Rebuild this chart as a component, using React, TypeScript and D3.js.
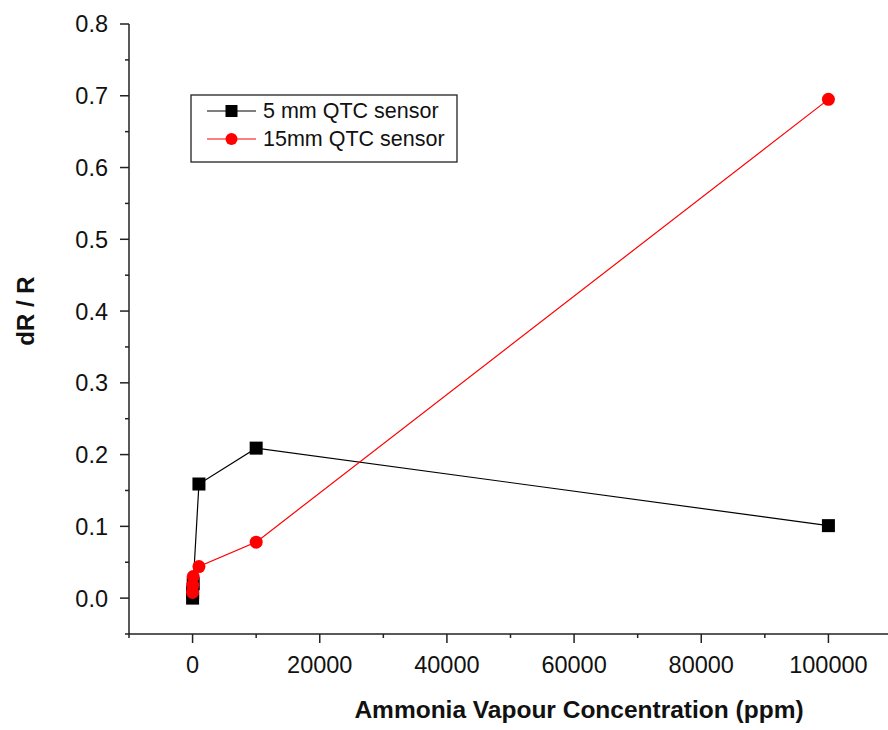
import React from "react";
import * as d3 from "d3";

const conc5 = [1, 10, 100, 1000, 10000, 100000];
const dr5 = [0.0, 0.008, 0.02, 0.159, 0.209, 0.101];
const conc15 = [1, 10, 100, 1000, 10000, 100000];
const dr15 = [0.008, 0.018, 0.03, 0.044, 0.078, 0.695];
const xTicks = [0, 20000, 40000, 60000, 80000, 100000];
const yTicks = [0, 0.1, 0.2, 0.3, 0.4, 0.5, 0.6, 0.7, 0.8];
const legendLabels = ["5 mm QTC sensor", "15mm QTC sensor"];

const sizes = { width: 888, height: 730 };
const margin = { top: 24, bottom: 96, left: 129, right: -4 };

const x = d3.scaleLinear()
  .domain([-10000, 110000])
  .range([margin.left, sizes.width - margin.right]);

const y = d3.scaleLinear()
  .domain([-0.05, 0.8])
  .range([sizes.height - margin.bottom, margin.top]);

const font = "'Liberation Sans', Arial, sans-serif";

export default function App() {
  const line = d3.line<[number, number]>()
    .x((d) => x(d[0]))
    .y((d) => y(d[1]));

  const s5 = conc5.map((c, i) => [c, dr5[i]] as [number, number]);
  const s15 = conc15.map((c, i) => [c, dr15[i]] as [number, number]);

  const xMinor = d3.range(-10000, 110001, 10000).filter((v) => !xTicks.includes(v));
  const yMinor = d3.range(0, 17).map((i) => -0.05 + i * 0.1).filter((v) => v > -0.06 && v < 0.8);

  const x0 = x.range()[0];
  const y0 = y.range()[0];

  return (
    <svg
      width={sizes.width}
      height={sizes.height}
      style={{ position: "absolute", left: 0, top: 0, background: "#fff" }}
      fontFamily={font}
    >
      {/* axes */}
      <g stroke="#222" strokeWidth={1.5} fill="none">
        <line x1={x0} x2={x0} y1={y(0.8)} y2={y0} />
        <line x1={x0} x2={sizes.width + 10} y1={y0} y2={y0} />
        {yTicks.map((t) => (
          <line key={"yt" + t} x1={x0 - 9} x2={x0} y1={y(t)} y2={y(t)} />
        ))}
        {yMinor.map((t) => (
          <line key={"ym" + t} x1={x0 - 4} x2={x0} y1={y(t)} y2={y(t)} />
        ))}
        {xTicks.map((t) => (
          <line key={"xt" + t} x1={x(t)} x2={x(t)} y1={y0} y2={y0 + 9} />
        ))}
        {xMinor.map((t) => (
          <line key={"xm" + t} x1={x(t)} x2={x(t)} y1={y0} y2={y0 + 4} />
        ))}
      </g>
      <g fontSize={23.5} fill="#111">
        {yTicks.map((t) => (
          <text key={"yl" + t} x={x0 - 21} y={y(t)} dy="0.36em" textAnchor="end">
            {t.toFixed(1)}
          </text>
        ))}
        {xTicks.map((t) => (
          <text key={"xl" + t} x={x(t)} y={y0 + 39} textAnchor="middle">
            {t}
          </text>
        ))}
      </g>
      <text
        x={579}
        y={718}
        textAnchor="middle"
        fontSize={24.5}
        fontWeight="bold"
        fill="#111"
      >
        Ammonia Vapour Concentration (ppm)
      </text>
      <text
        transform={`translate(34, ${y(0.4)}) rotate(-90)`}
        textAnchor="middle"
        fontSize={24}
        fontWeight="bold"
        fill="#111"
      >
        dR / R
      </text>

      {/* series */}
      <path d={line(s5) || ""} fill="none" stroke="#000" strokeWidth={1.2} />
      {s5.map((d, i) => (
        <rect key={"p5" + i} x={x(d[0]) - 6.5} y={y(d[1]) - 6.5} width={13} height={13} fill="#000" />
      ))}
      <path d={line(s15) || ""} fill="none" stroke="#ff0000" strokeWidth={1.2} />
      {s15.map((d, i) => (
        <circle key={"p15" + i} cx={x(d[0])} cy={y(d[1])} r={6.5} fill="#ff0000" />
      ))}

      {/* legend */}
      <g>
        <rect x={191} y={95} width={266} height={67} fill="#fff" stroke="#222" strokeWidth={1.3} />
        <line x1={207} x2={256} y1={111} y2={111} stroke="#000" strokeWidth={1.2} />
        <rect x={225.5} y={105} width={12} height={12} fill="#000" />
        <line x1={207} x2={256} y1={139} y2={139} stroke="#ff0000" strokeWidth={1.2} />
        <circle cx={231.5} cy={139} r={6} fill="#ff0000" />
        {legendLabels.map((l, i) => (
          <text key={l} x={263} y={118 + i * 28} fontSize={21.5} fill="#111">
            {l}
          </text>
        ))}
      </g>
    </svg>
  );
}
